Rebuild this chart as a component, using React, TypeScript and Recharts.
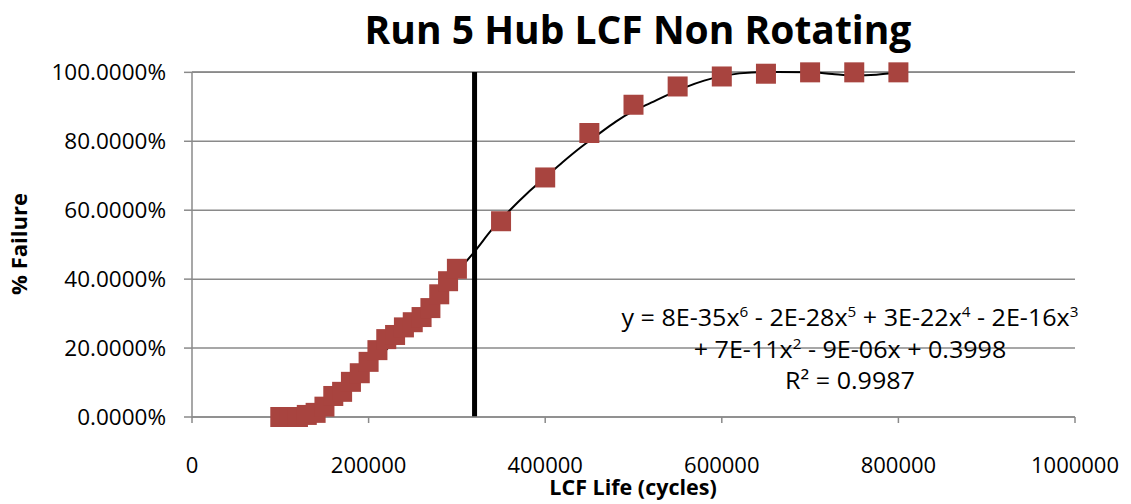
import React from "react";
import {
  ComposedChart,
  Scatter,
  Line,
  XAxis,
  YAxis,
  CartesianGrid,
  ReferenceLine,
} from "recharts";

// failure data
const cycles = [
  100000, 110000, 120000, 130000, 140000, 150000, 160000, 170000, 180000, 190000,
  200000, 210000, 220000, 230000, 240000, 250000, 260000, 270000, 280000, 290000,
  300000, 350000, 400000, 450000, 500000, 550000, 600000, 650000, 700000, 750000, 800000,
];
const failurePct = [
  0, 0, 0, 0.6, 1.2, 3.0, 6.1, 7.3, 10.2, 12.7,
  16.0, 19.4, 22.6, 23.8, 26.0, 27.5, 29.0, 31.6, 35.6, 39.4,
  43.0, 56.8, 69.5, 82.4, 90.6, 95.9, 98.8, 99.6, 100, 100, 100,
];

// poly trend line
const trendCycles = [
  120000, 140000, 160000, 180000, 200000, 220000, 240000, 260000, 280000, 300000,
  320000, 340000, 360000, 380000, 400000, 420000, 440000, 460000, 480000, 500000,
  520000, 540000, 560000, 580000, 600000, 620000, 650000, 700000, 725000, 750000, 775000, 800000,
];
const trendPct = [
  0, 1.5, 4.8, 9.0, 14.2, 19.5, 24.8, 30.2, 36.0, 42.0,
  48.0, 54.5, 60.0, 65.0, 69.5, 74.0, 78.2, 82.0, 85.7, 88.8,
  91.2, 93.6, 95.8, 97.6, 98.9, 99.7, 100.1, 100, 99.5, 99.1, 99.3, 100,
];

const xTicks = [0, 200000, 400000, 600000, 800000, 1000000];
const yTicks = [0, 20, 40, 60, 80, 100];
const markerX = 320000;

const points = cycles.map((x, i) => ({ x, y: failurePct[i] }));
const trend = trendCycles.map((x, i) => ({ x, y: trendPct[i] }));

const FONT = "'Open Sans', sans-serif";
const GRID = "#8a8a8a";

const Square = (p: any) => (
  <rect x={p.cx - 10} y={p.cy - 10} width={20} height={20} fill="#A8443F" />
);

const sup = { fontSize: 14, lineHeight: 0 };

export default function App() {
  return (
    <div style={{ position: "absolute", left: 0, top: 0, width: 1131, height: 504, background: "#fff", fontFamily: FONT }}>
      <ComposedChart width={1131} height={504} margin={{ top: 72, right: 56, bottom: 0, left: 0 }}>
        <CartesianGrid vertical={false} stroke={GRID} strokeWidth={1.5} />
        <XAxis
          type="number"
          dataKey="x"
          domain={[0, 1000000]}
          ticks={xTicks}
          height={87}
          stroke={GRID}
          strokeWidth={1.5}
          tickSize={6}
          tickMargin={34}
          tick={{ fill: "#000", fontSize: 22, fontFamily: FONT }}
        />
        <YAxis
          type="number"
          dataKey="y"
          domain={[0, 100]}
          ticks={yTicks}
          width={192}
          stroke={GRID}
          strokeWidth={1.5}
          tickSize={8}
          tickMargin={18}
          tickFormatter={(v: number) => `${v.toFixed(4)}%`}
          tick={{ fill: "#000", fontSize: 22.5, fontFamily: FONT }}
        />
        <ReferenceLine x={markerX} stroke="#000" strokeWidth={5} />
        <Scatter data={points} shape={Square} isAnimationActive={false} />
        <Line
          data={trend}
          dataKey="y"
          type="monotone"
          stroke="#000"
          strokeWidth={2}
          dot={false}
          activeDot={false}
          isAnimationActive={false}
        />
      </ComposedChart>

      <div style={{ position: "absolute", left: 638, top: 2, transform: "translateX(-50%)", fontSize: 39, fontWeight: 700, whiteSpace: "nowrap" }}>
        Run 5 Hub LCF Non Rotating
      </div>
      <div style={{ position: "absolute", left: 633, top: 472, transform: "translateX(-50%)", fontSize: 21.5, fontWeight: 700, whiteSpace: "nowrap" }}>
        LCF Life (cycles)
      </div>
      <div style={{ position: "absolute", left: 18, top: 244, transform: "translate(-50%, -50%) rotate(-90deg)", fontSize: 22, fontWeight: 700, whiteSpace: "nowrap" }}>
        % Failure
      </div>
      <div style={{ position: "absolute", left: 850, top: 302, transform: "translateX(-50%) scaleX(1.09)", fontSize: 23, lineHeight: "31.5px", textAlign: "center", whiteSpace: "nowrap" }}>
        <div>y = 8E-35x<sup style={sup}>6</sup> - 2E-28x<sup style={sup}>5</sup> + 3E-22x<sup style={sup}>4</sup> - 2E-16x<sup style={sup}>3</sup></div>
        <div>+ 7E-11x<sup style={sup}>2</sup> - 9E-06x + 0.3998</div>
        <div>R² = 0.9987</div>
      </div>
    </div>
  );
}
